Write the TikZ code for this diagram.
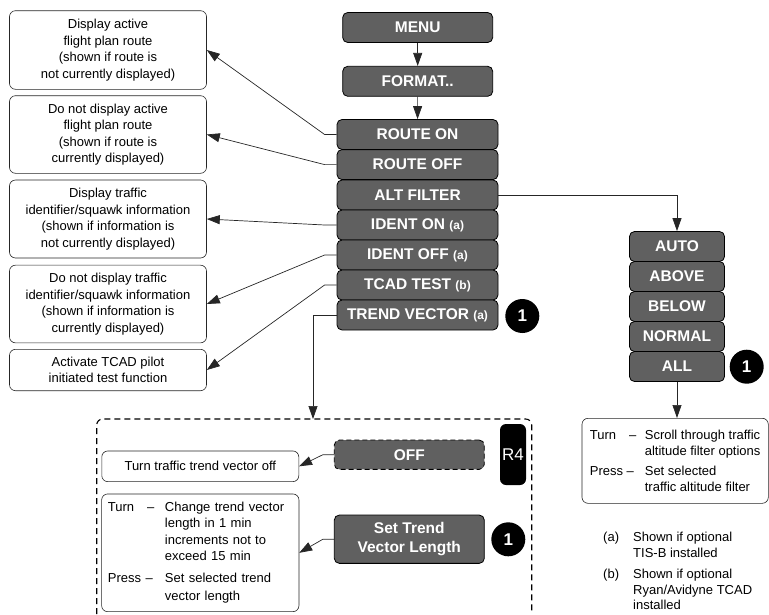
\documentclass[tikz,border=0pt]{standalone}
\usepackage{fontspec}
\setmainfont{Liberation Sans}
\usetikzlibrary{arrows.meta, positioning}
\definecolor{btngray}{RGB}{96,96,96}
\newcommand\optmark[1]{{\fontsize{12}{14}\selectfont(#1)}}

\begin{document}
\begin{tikzpicture}[x=1pt, y=-1pt,
    btn/.style={draw=black, fill=btngray, text=white, rounded corners=5pt, line width=0.8pt, minimum width=161pt, minimum height=30pt, inner sep=0pt, font=\fontsize{15.5}{19}\selectfont\bfseries},
    note/.style={draw=black!85, rounded corners=6pt, minimum width=197pt, align=center, inner sep=0pt, font=\fontsize{13}{16.5}\selectfont, line width=0.6pt},
    badge/.style={circle, fill=black, text=white, minimum size=34pt, inner sep=0pt, font=\fontsize{17}{20}\selectfont\bfseries},
    link/.style={draw=black!85, line width=0.7pt, -{Triangle[length=13pt, width=9pt]}},
  ]
  \useasboundingbox (0,0) rectangle (769,614);

  % notes on the left
  \node[note, minimum height=78.6pt] (routeonnote) at (108,50) {Display active\\flight plan route\\(shown if route is\\not currently displayed)};
  \node[note, minimum height=77.6pt] (routeoffnote) at (108,134.5) {Do not display active\\flight plan route\\(shown if route is\\currently displayed)};
  \node[note, minimum height=78pt] (identonnote) at (108,219) {Display traffic\\identifier/squawk information\\(shown if information is\\not currently displayed)};
  \node[note, minimum height=77.7pt] (identoffnote) at (108,304) {Do not display traffic\\identifier/squawk information\\(shown if information is\\currently displayed)};
  \node[note, minimum height=41.4pt] (tcadnote) at (108,370) {Activate TCAD pilot\\initiated test function};

  % main menu column
  \node[btn, minimum width=150pt] (menu) at (417.7,27.5) {MENU};
  \node[btn, minimum width=150pt] (format) at (417.7,81.3) {FORMAT..};
  \node[btn] (routeon) at (417.5,134.5) {ROUTE ON};
  \node[btn] (routeoff) at (417.5,164.6) {ROUTE OFF};
  \node[btn] (altfilter) at (417.5,195) {ALT FILTER};
  \node[btn] (identon) at (417.5,225) {IDENT ON \optmark{a}};
  \node[btn] (identoff) at (417.5,255) {IDENT OFF \optmark{a}};
  \node[btn] (tcadtest) at (417.5,285) {TCAD TEST \optmark{b}};
  \node[btn] (trendvec) at (417.5,315) {TREND VECTOR \optmark{a}};
  \node[badge] (trendbadge) at (522.3,316) {1};

  \draw[link] (menu) -- (format);
  \draw[link] (format) -- (routeon);
  \draw[link] (routeon.west) -- ++(-12,0) -- (routeonnote.east);
  \draw[link] (routeoff.west) -- ++(-12,0) -- (routeoffnote.east);
  \draw[link] (identon.west) -- ++(-12,0) -- (identonnote.east);
  \draw[link] (identoff.west) -- ++(-12,0) -- (identoffnote.east);
  \draw[link] (tcadtest.west) -- ++(-12,0) -- (tcadnote.east);

  % altitude filter column
  \node[btn, minimum width=95pt] (auto) at (677,246.5) {AUTO};
  \node[btn, minimum width=95pt] (above) at (677,276.5) {ABOVE};
  \node[btn, minimum width=95pt] (below) at (677,306.5) {BELOW};
  \node[btn, minimum width=95pt] (normal) at (677,336.5) {NORMAL};
  \node[btn, minimum width=95pt] (all) at (677,366.5) {ALL};
  \node[badge] (allbadge) at (746.7,366.7) {1};
  \node[note, anchor=north west, minimum width=186.3pt, minimum height=85pt, align=left] (altbox) at (581.7,418)
    {\makebox[55pt][l]{Turn\quad–}Scroll through traffic\\\hspace*{55pt}altitude filter options\\[3pt]
     \makebox[55pt][l]{Press –}Set selected\\\hspace*{55pt}traffic altitude filter};

  \draw[link] (altfilter.east) -| (auto.north);
  \draw[link] (all.south) -- (all.south |- altbox.north);

  % trend vector group
  \coordinate (trendin) at (313,419);
  \draw[dashed, dash pattern=on 6pt off 4pt, line width=1.1pt, rounded corners=6pt] (96.7,614) |- (531.7,419) -- (531.7,614);
  \draw[link] (trendvec.west) -| (trendin);

  \node[btn, dashed, dash pattern=on 5pt off 3pt, minimum width=150pt, minimum height=29.3pt] (off) at (409.3,454.7) {OFF};
  \node[fill=black, text=white, rounded corners=6pt, minimum width=26pt, minimum height=61pt, inner sep=0pt, font=\fontsize{17}{20}\selectfont] (rfour) at (513,454.5) {R4};
  \node[note, minimum height=30.7pt] (offnote) at (200.3,466.3) {Turn traffic trend vector off};

  \node[btn, minimum width=150pt, minimum height=48.3pt, align=center] (settrend) at (409.3,539.2) {Set Trend\\Vector Length};
  \node[badge] (setbadge) at (508.3,539.3) {1};
  \node[note, minimum width=0pt, text width=184.7pt, inner xsep=6.3pt, minimum height=117.7pt, align=left] (setnote) at (200.3,552.8)
    {\makebox[57pt][l]{Turn\quad–}Change trend vector\\\hspace*{57pt}length in 1 min\\\hspace*{57pt}increments not to\\\hspace*{57pt}exceed 15 min\\[5pt]
     \makebox[57pt][l]{Press –}Set selected trend\\[2pt]\hspace*{57pt}vector length};

  \draw[link] (off.west) -- ++(-11,0) -- (offnote.east);
  \draw[link] (settrend.west) -- ++(-11,0) -- (setnote.east);

  % footnotes
  \node[anchor=north west, inner sep=0pt, align=left, font=\fontsize{13}{15.5}\selectfont] (footnotes) at (603,532)
    {\makebox[30pt][l]{(a)}Shown if optional\\\hspace*{30pt}TIS-B installed\\[6pt]
     \makebox[30pt][l]{(b)}Shown if optional\\\hspace*{30pt}Ryan/Avidyne TCAD\\\hspace*{30pt}installed};
\end{tikzpicture}
\end{document}
